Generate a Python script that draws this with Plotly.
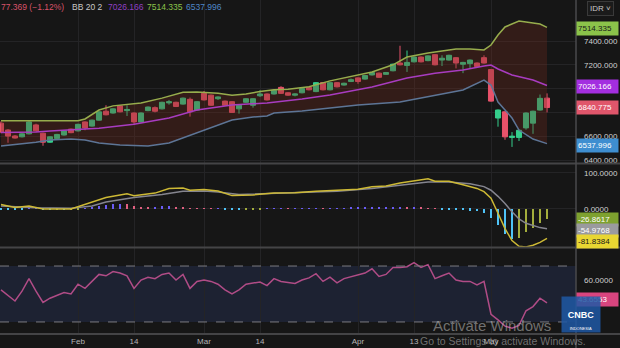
import plotly.graph_objects as go

# ---------------- data ----------------
idx = list(range(79))
opens = [6710, 6652, 6602, 6595, 6620, 6695, 6625, 6550, 6580, 6610,
         6660, 6645, 6720, 6685, 6735, 6810, 6795, 6855, 6815, 6795,
         6720, 6815, 6840, 6830, 6880, 6885, 6870, 6910, 6820, 6960,
         6945, 6915, 6895, 6890, 6830, 6885, 6860, 6940, 6955, 6955,
         7010, 6965, 6945, 6965, 7010, 6975, 7050, 6990, 7050, 7030,
         7060, 7090, 7080, 7115, 7130, 7120, 7150, 7215, 7195, 7225,
         7265, 7235, 7285, 7240, 7240, 7260, 7205, 7210, 7215, 7260,
         7160, 6753, 6805, 6590, 6590, 6670, 6710, 6820, 6920]
highs = [6725, 6660, 6610, 6630, 6730, 6705, 6630, 6600, 6620, 6650,
         6665, 6705, 6725, 6740, 6810, 6860, 6835, 6860, 6860, 6800,
         6800, 6850, 6850, 6890, 6905, 6890, 6925, 6925, 6895, 6980,
         6950, 6935, 6900, 6895, 6865, 6920, 6920, 6985, 6960, 6990,
         7020, 6970, 6960, 7005, 7015, 7055, 7055, 7055, 7055, 7050,
         7085, 7095, 7115, 7140, 7135, 7140, 7210, 7360, 7320, 7270,
         7270, 7280, 7290, 7280, 7285, 7265, 7225, 7245, 7220, 7280,
         7165, 6825, 6810, 6635, 6655, 6800, 6815, 6950, 6960]
lows = [6625, 6545, 6580, 6590, 6615, 6640, 6520, 6545, 6575, 6605,
        6625, 6640, 6650, 6680, 6730, 6775, 6790, 6800, 6770, 6695,
        6715, 6810, 6800, 6825, 6865, 6845, 6865, 6765, 6815, 6900,
        6855, 6905, 6855, 6795, 6790, 6880, 6840, 6930, 6900, 6950,
        6955, 6940, 6935, 6960, 6985, 6970, 6985, 6985, 7010, 7025,
        7055, 7040, 7075, 7110, 7090, 7115, 7145, 7195, 7140, 7220,
        7220, 7230, 7195, 7190, 7235, 7170, 7130, 7170, 7180, 7210,
        6890, 6680, 6570, 6510, 6560, 6655, 6620, 6815, 6800]
closes = [6635, 6601, 6585, 6620, 6720, 6645, 6550, 6595, 6615, 6645,
          6630, 6700, 6670, 6735, 6805, 6780, 6830, 6805, 6825, 6720,
          6795, 6845, 6810, 6885, 6890, 6850, 6920, 6805, 6890, 6905,
          6860, 6930, 6860, 6800, 6860, 6915, 6915, 6955, 6905, 6985,
          6960, 6945, 6955, 7000, 6990, 7050, 6990, 7050, 7015, 7045,
          7075, 7060, 7110, 7135, 7095, 7135, 7205, 7200, 7220, 7265,
          7225, 7275, 7200, 7255, 7280, 7215, 7220, 7240, 7185, 7215,
          6895, 6820, 6595, 6600, 6650, 6795, 6810, 6918.144, 6840.775]

upper_idx = [0, 11, 12, 13, 14, 16, 18, 20, 23, 25, 26, 28, 31, 33, 35, 37, 39, 41,
             44, 47, 50, 53, 56, 58, 61, 65, 67, 69, 70, 71, 72, 74, 75, 77, 78]
upper_val = [6730, 6730, 6745, 6780, 6820, 6855, 6870, 6880, 6920, 6955, 6970, 6972,
             6960, 6945, 6955, 6975, 6990, 6995, 7015, 7065, 7100, 7140, 7200, 7265,
             7300, 7333, 7333, 7325, 7366, 7450, 7518, 7568, 7560, 7543, 7514.335]
mid_idx = [0, 5, 7, 10, 12, 14, 19, 24, 28, 33, 38, 43, 47, 53, 58, 62, 66, 69, 70,
           71, 73, 76, 78]
mid_val = [6632, 6635, 6643, 6650, 6660, 6668, 6700, 6753, 6820, 6862, 6880, 6912,
           6946, 7013, 7089, 7130, 7156, 7190, 7198, 7165, 7115, 7072, 7026.166]
lower_idx = [0, 3, 5, 7, 10, 12, 14, 17, 21, 24, 26, 28, 31, 33, 36, 38, 39, 43, 47,
             51, 57, 62, 66, 69, 70, 71, 73, 74, 76, 78]
lower_val = [6518, 6535, 6550, 6568, 6576, 6568, 6543, 6526, 6518, 6543, 6585, 6627,
             6694, 6736, 6761, 6770, 6795, 6812, 6837, 6862, 6887, 6946, 6988, 7072,
             7030, 6887, 6753, 6652, 6576, 6537.996]

macd_idx = [0, 2, 4, 6, 10, 12, 15, 18, 19, 22, 24, 26, 27, 29, 31, 33, 36, 39, 42,
            45, 48, 51, 53, 55, 57, 59, 61, 62, 64, 66, 68, 69, 70, 71, 72, 73, 74,
            75, 76, 77, 78]
macd_val = [12, 4, 8, 0, 0, 12, 32, 42, 37, 44, 57, 58, 52, 54, 50, 37, 39, 44, 45,
            49, 52, 55, 62, 64, 72, 79, 84, 77, 77, 67, 57, 48, 30, -12, -55, -88,
            -104, -106, -101, -93, -81.8384]
signal_idx = [0, 5, 10, 13, 15, 19, 23, 26, 29, 31, 34, 38, 43, 48, 53, 57, 61, 64,
              67, 69, 70, 71, 72, 73, 74, 75, 76, 77, 78]
signal_val = [8, 3, 2, 8, 19, 32, 40, 49, 50, 47, 40, 42, 45, 49, 57, 67, 75, 75, 70,
              62, 52, 35, 15, -8, -28, -40, -47, -52, -54.9768]
hist_val = [-1, -1, -3, -3, 0.5, 0.5, -3, -4, -3, -3,
            -2, -1, 1, 4, 7, 10, 13, 15, 14, 8,
            6, 5, 6, 8, 9, 6, 4, 2, 1.5, 1,
            0.5, 0.5, -1, -3, -4, -2, -1, -0.5, 0.5, 1,
            1, 0.5, 0.5, 1, 1.5, 2, 1.5, 2, 2, 2.5,
            3, 3, 3.5, 4, 4, 5, 5.5, 6, 5, 5,
            3, 2, 0.5, -1, -2, -3, -4, -5, -6, -12,
            -25, -45, -70, -85, -80, -65, -52, -40, -26.8617]

rsi_val = [53, 49, 45, 52, 61, 52, 44, 47, 49, 51,
           50, 57, 54, 59, 64, 63, 66, 65, 63, 54,
           60, 62, 61, 64, 65, 60, 64, 54, 59, 60,
           59, 57, 53, 50, 53, 57, 58, 58.6, 56, 61,
           59, 58, 57.5, 60, 61.5, 64.5, 59, 62, 58, 61,
           62.5, 63.5, 65, 68, 62.5, 64, 69, 69, 69.5, 72.5,
           69, 71, 61, 63, 65, 60, 59, 59, 56.5, 59,
           35.5, 31.5, 27, 25.5, 27.5, 38, 41, 47, 43.6]

tick_pos = [11, 19, 29, 37, 51, 59, 70]
tick_text = ["Feb", "14", "Mar", "14", "Apr", "13", "May"]
price_ticks = [6400, 6600, 6800, 7000, 7200, 7400]
price_tick_text = ["6400.000", "6600.000", "", "", "7200.000", "7400.000"]
macd_ticks = [0, 100]
rsi_ticks = [60]

# ---------------- styling ----------------
BG = "#161616"
GRID = "#242426"
SEP = "#444446"
GREEN = "#35cf8c"
RED = "#e8526a"
FONT = "Liberation Sans"
PLOT_W, PLOT_H = 576, 333


def px(x):
    return x / PLOT_W


def py(y):
    return (PLOT_H - y) / PLOT_H


fig = go.Figure()

fig.add_trace(go.Scatter(x=lower_idx, y=lower_val, mode="lines",
                         line=dict(color="#5d7596", width=1.5),
                         xaxis="x", yaxis="y", hoverinfo="skip"))
fig.add_trace(go.Scatter(x=upper_idx, y=upper_val, mode="lines",
                         line=dict(color="#97ad4d", width=1.5),
                         fill="tonexty", fillcolor="rgba(112,42,30,0.33)",
                         xaxis="x", yaxis="y", hoverinfo="skip"))
fig.add_trace(go.Scatter(x=mid_idx, y=mid_val, mode="lines",
                         line=dict(color="#a83cc0", width=1.5),
                         xaxis="x", yaxis="y", hoverinfo="skip"))
fig.add_trace(go.Candlestick(
    x=idx, open=opens, high=highs, low=lows, close=closes,
    increasing=dict(line=dict(color=GREEN, width=1), fillcolor=GREEN),
    decreasing=dict(line=dict(color=RED, width=1), fillcolor=RED),
    whiskerwidth=0, xaxis="x", yaxis="y", hoverinfo="skip"))

# MACD histogram colours
hist_colors = []
prev = 0
for h in hist_val:
    if h >= 0:
        hist_colors.append("#6b5cf5" if h >= prev else "#e06080")
    else:
        hist_colors.append("#4fc3f7" if h <= prev else "#a3ad3c")
    prev = h

fig.add_trace(go.Bar(x=idx, y=hist_val, marker=dict(color=hist_colors, line=dict(width=0)),
                     width=0.3, xaxis="x2", yaxis="y2", hoverinfo="skip"))
fig.add_trace(go.Scatter(x=signal_idx, y=signal_val, mode="lines",
                         line=dict(color="#85858f", width=1.5),
                         xaxis="x2", yaxis="y2", hoverinfo="skip"))
fig.add_trace(go.Scatter(x=macd_idx, y=macd_val, mode="lines",
                         line=dict(color="#cdb935", width=1.5),
                         xaxis="x2", yaxis="y2", hoverinfo="skip"))

fig.add_trace(go.Scatter(x=idx, y=rsi_val, mode="lines",
                         line=dict(color="#b04c86", width=1.5),
                         xaxis="x3", yaxis="y3", hoverinfo="skip"))

xr = [-1 / 7, 575 / 7]
xcommon = dict(range=xr, showgrid=True, gridcolor=GRID, gridwidth=1, zeroline=False,
               tickvals=tick_pos, ticktext=tick_text, showline=False, fixedrange=True)
ycommon = dict(side="right", showgrid=True, gridcolor=GRID, zeroline=False,
               showline=False, ticks="", ticklabelstandoff=7,
               tickfont=dict(family=FONT, size=8, color="#d0d0d0"))

fig.update_layout(
    width=620, height=348, autosize=False,
    margin=dict(l=0, r=44, t=0, b=15, pad=0),
    paper_bgcolor=BG, plot_bgcolor=BG,
    showlegend=False,
    boxgap=0.28, boxgroupgap=0,
    xaxis=dict(**xcommon, anchor="y", domain=[0, 1], showticklabels=False,
               rangeslider=dict(visible=False)),
    xaxis2=dict(**xcommon, anchor="y2", domain=[0, 1], showticklabels=False, matches="x"),
    xaxis3=dict(**xcommon, anchor="y3", domain=[0, 1], showticklabels=True, matches="x",
                ticks="", ticklabelstandoff=2,
                tickfont=dict(family=FONT, size=8, color="#b5b5b5")),
    yaxis=dict(**ycommon, domain=[py(163), 1], range=[6375, 7744.5],
               tickvals=price_ticks, ticktext=price_tick_text),
    yaxis2=dict(**ycommon, domain=[py(247), py(164)], range=[-106, 125],
                tickvals=macd_ticks, ticktext=[f"{v:.4f}" for v in macd_ticks]),
    yaxis3=dict(**{**ycommon, "showgrid": False}, domain=[0, py(248)], range=[22.1, 82.9],
                tickvals=rsi_ticks, ticktext=[f"{v:.4f}" for v in rsi_ticks]),
    bargap=0,
)

shapes = []
# RSI band and dashed levels
shapes.append(dict(type="rect", xref="paper", yref="y3", x0=0, x1=1, y0=30, y1=70,
                   fillcolor="#1d2232", line=dict(width=0), layer="below"))
for lv in (70, 30):
    shapes.append(dict(type="line", xref="paper", yref="y3", x0=0, x1=1, y0=lv, y1=lv,
                       line=dict(color="#7a7a80", width=1, dash="dash")))
# pane separators
for yy in (163.5, 247.5, 334):
    shapes.append(dict(type="line", xref="paper", yref="paper", x0=0, x1=620 / PLOT_W,
                       y0=py(yy), y1=py(yy), line=dict(color=SEP, width=2)))
shapes.append(dict(type="line", xref="paper", yref="paper", x0=1, x1=1,
                   y0=py(348), y1=1, line=dict(color="#4a4a4c", width=1.5)))
fig.update_layout(shapes=shapes)

ann = []
# header
hdr = [("77.369 (\u22121.12%)", -1, "#d9536a"), ("BB 20 2", 70, "#c8c8c8"),
       ("7026.166", 106, "#9040c4"), ("7514.335", 145, "#8bc34a"),
       ("6537.996", 184, "#4f86c6")]
for t, xx, c in hdr:
    ann.append(dict(text=t, xref="paper", yref="paper", x=px(xx), y=py(7.5),
                    xanchor="left", yanchor="middle", showarrow=False,
                    font=dict(family=FONT, size=8.5, color=c)))

# value labels on right axis
def vlabel(text, yref, yval, bg, fg, yshift=0):
    ann.append(dict(text=text, xref="paper", yref=yref, x=1, y=yval, xanchor="left",
                    yanchor="middle", showarrow=False, bgcolor=bg, width=39, height=11,
                    align="left", borderpad=1, xshift=0, yshift=yshift,
                    font=dict(family=FONT, size=8, color=fg)))

vlabel("7514.335", "y", upper_val[-1], "#8bc34a", "#1a1a1a", -1)
vlabel("7026.166", "y", mid_val[-1], "#a32ee0", "#ffffff", -1)
vlabel("6840.775", "y", closes[-1], "#e0566b", "#ffffff", 0)
vlabel("6537.996", "y", lower_val[-1], "#3e8ed0", "#ffffff", -2)
vlabel("-26.8617", "y2", hist_val[-1], "#7ea12f", "#ffffff", -1)
vlabel("-54.9768", "y2", signal_val[-1], "#9a9a9e", "#ffffff", -2)
vlabel("-81.8384", "y2", macd_val[-1], "#e8d632", "#1a1a1a", -3)
vlabel("43.6553", "y3", rsi_val[-1], "#d9457f", "#ffffff", 3)

# IDR button
ann.append(dict(text="IDR \u02c5", xref="paper", yref="paper", x=px(600), y=py(8),
                xanchor="center", yanchor="middle", showarrow=False,
                bgcolor="#1b1b1b", bordercolor="#3a3a3a", borderwidth=1, borderpad=2,
                font=dict(family=FONT, size=8, color="#c8c8c8")))

# watermark texts
ann.append(dict(text="Activate Windows", xref="paper", yref="paper", x=px(431), y=py(325),
                xanchor="left", yanchor="middle", showarrow=False,
                font=dict(family=FONT, size=15, color="rgba(190,190,190,0.55)")))
ann.append(dict(text="Go to Settings to activate Windows.", xref="paper", yref="paper",
                x=px(418), y=py(341), xanchor="left", yanchor="middle", showarrow=False,
                font=dict(family=FONT, size=10.5, color="rgba(190,190,190,0.55)")))
# logo box
ann.append(dict(text="<b>CNBC</b><br><span style='font-size:4px'>INDONESIA</span>",
                xref="paper", yref="paper", x=px(581), y=py(314),
                xanchor="center", yanchor="middle", showarrow=False,
                bgcolor="rgba(30,88,165,0.85)", width=36, height=33, valign="bottom",
                font=dict(family=FONT, size=9, color="#ffffff")))

fig.update_layout(annotations=ann)

fig.write_html("out.html")
